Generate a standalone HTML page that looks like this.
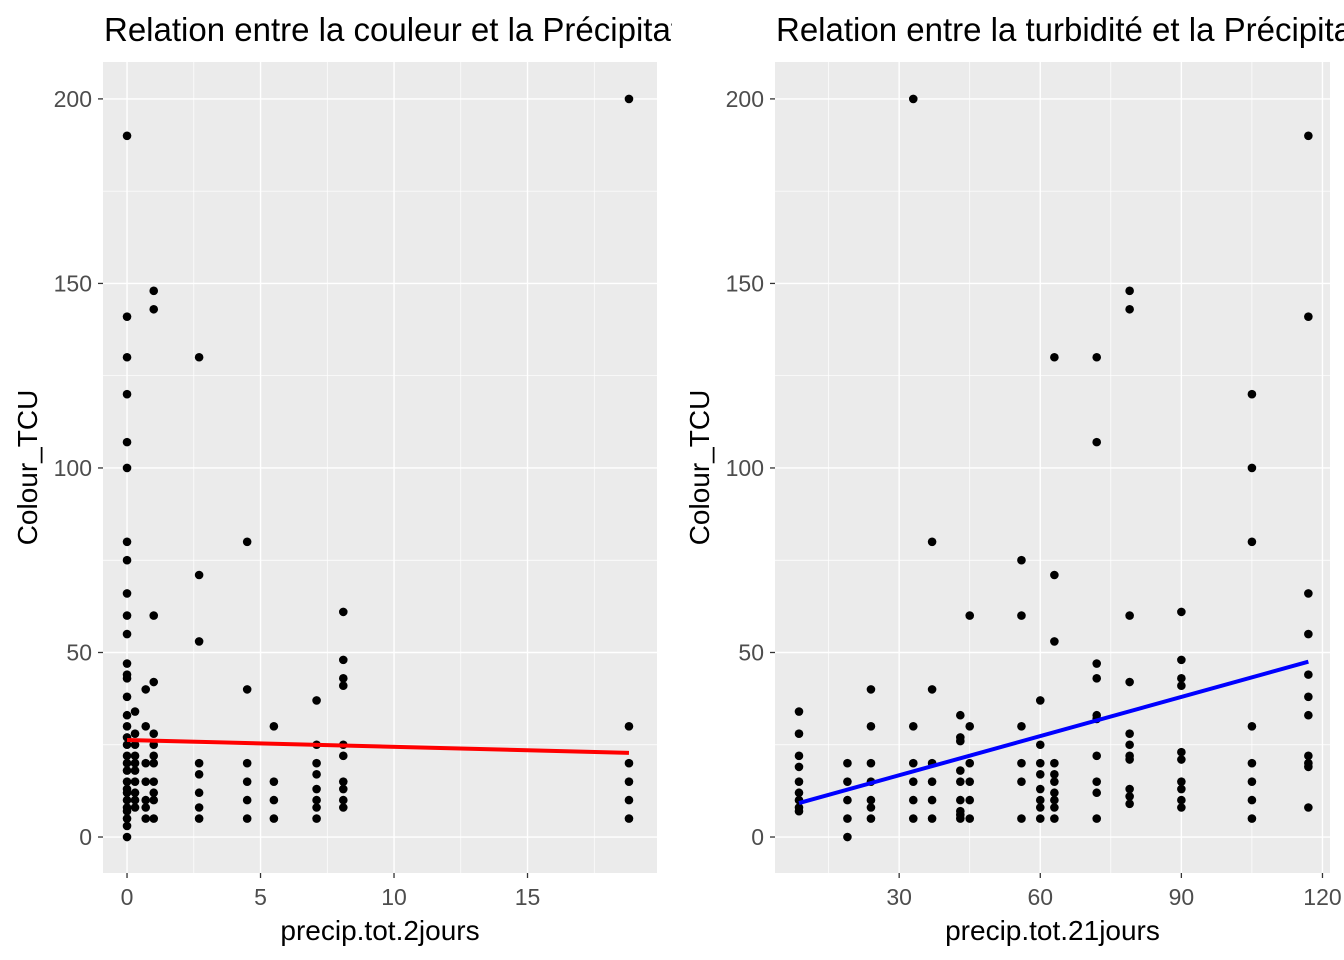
<!DOCTYPE html>
<html><head><meta charset="utf-8"><style>
html,body{margin:0;padding:0;background:#fff}
svg{display:block;font-family:"Liberation Sans",Arial,sans-serif}
</style></head><body>
<svg id="chart" width="1344" height="960" xmlns="http://www.w3.org/2000/svg">
<defs>
<clipPath id="clipL"><rect x="0" y="0" width="672" height="960"/></clipPath>
<clipPath id="clipR"><rect x="672" y="0" width="672" height="960"/></clipPath>
</defs>
</svg>
<script>
// Left panel data
const leftX = [0,0,0,0,0,0,0,0,0,0,0,0,0,0,0,0,0,0,0,0,0,0,0,0,0,0,0,0,0,0,0,
 0.3,0.3,0.3,0.3,0.3,0.3,0.3,0.3,0.3,0.3,
 0.7,0.7,0.7,0.7,0.7,0.7,0.7,
 1,1,1,1,1,1,1,1,1,1,1,1,
 2.7,2.7,2.7,2.7,2.7,2.7,2.7,2.7,
 4.5,4.5,4.5,4.5,4.5,4.5,
 5.5,5.5,5.5,5.5,
 7.1,7.1,7.1,7.1,7.1,7.1,7.1,7.1,
 8.1,8.1,8.1,8.1,8.1,8.1,8.1,8.1,8.1,8.1,
 18.8,18.8,18.8,18.8,18.8,18.8];
const leftY = [190,141,130,120,107,100,80,75,66,60,55,47,44,43,38,33,30,27,25,22,20,18,15,13,12,10,8,7,5,3,0,
 34,28,25,22,20,18,15,12,10,8,
 40,30,20,15,10,8,5,
 148,143,60,42,28,25,22,20,15,12,10,5,
 130,71,53,20,17,12,8,5,
 80,40,20,15,10,5,
 30,15,10,5,
 37,25,20,17,13,10,8,5,
 61,48,43,41,25,22,15,13,10,8,
 200,30,20,15,10,5];
// Left regression (fitted on full data incl. overlapping points): x range and y values at ends
const leftFitX = [0, 18.8];
const leftFitY = [26.3, 22.8];
// Right panel data
const rightX = [8.7,8.7,8.7,8.7,8.7,8.7,8.7,8.7,8.7,
 19,19,19,19,19,
 24,24,24,24,24,24,24,
 33,33,33,33,33,33,
 37,37,37,37,37,37,
 43,43,43,43,43,43,43,43,43,
 45,45,45,45,45,45,
 56,56,56,56,56,56,
 60,60,60,60,60,60,60,60,
 63,63,63,63,63,63,63,63,63,63,
 72,72,72,72,72,72,72,72,72,72,
 79,79,79,79,79,79,79,79,79,79,79,
 90,90,90,90,90,90,90,90,90,90,
 105,105,105,105,105,105,105,105,
 117,117,117,117,117,117,117,117,117,117,117];
const rightY = [34,28,22,19,15,12,10,8,7,
 20,15,10,5,0,
 40,30,20,15,10,8,5,
 200,30,20,15,10,5,
 80,40,20,15,10,5,
 33,27,26,18,15,10,7,6,5,
 60,30,20,15,10,5,
 75,60,30,20,15,5,
 37,25,20,17,13,10,8,5,
 130,71,53,20,17,15,12,10,8,5,
 130,107,47,43,33,32,22,15,12,5,
 148,143,60,42,28,25,22,21,13,11,9,
 61,48,43,41,23,21,15,13,10,8,
 120,100,80,30,20,15,10,5,
 190,141,66,55,44,38,33,22,20,19,8];
const rightFitX = [8.7, 117];
const rightFitY = [9.2, 47.5];
const leftXTicks = [0,5,10,15];
const leftXMinor = [2.5,7.5,12.5,17.5];
const rightXTicks = [30,60,90,120];
const rightXMinor = [15,45,75,105];
const yTicks = [0,50,100,150,200];
const yMinor = [25,75,125,175];

const NS="http://www.w3.org/2000/svg";
const svg=document.getElementById('chart');
function el(tag,attrs,parent,text){const e=document.createElementNS(NS,tag);for(const k in attrs)e.setAttribute(k,attrs[k]);if(text!==undefined)e.textContent=text;(parent||svg).appendChild(e);return e;}

function panel(opt){
  const g=el('g',{},svg);
  
  
  const {px0,px1,py0,py1,xmin,xmax,ymin,ymax}=opt;
  const sx=v=>px0+(v-xmin)/(xmax-xmin)*(px1-px0);
  const sy=v=>py1-(v-ymin)/(ymax-ymin)*(py1-py0);
  const bg=el('rect',{x:px0,y:py0,width:px1-px0,height:py1-py0,fill:'#ebebeb'},g);
  
  
  opt.xMinor.forEach(v=>el('line',{x1:sx(v),x2:sx(v),y1:py0,y2:py1,stroke:'#fff','stroke-width':0.7},g));
  yMinor.forEach(v=>el('line',{x1:px0,x2:px1,y1:sy(v),y2:sy(v),stroke:'#fff','stroke-width':0.7},g));
  opt.xTicks.forEach(v=>{
    el('line',{x1:sx(v),x2:sx(v),y1:py0,y2:py1,stroke:'#fff','stroke-width':1.4},g);
    el('line',{x1:sx(v),x2:sx(v),y1:py1,y2:py1+5,stroke:'#333','stroke-width':1.3},g);
    const t=el('text',{x:sx(v),y:py1+32,'font-size':23,fill:'#4d4d4d','text-anchor':'middle'},g,String(v));
    
    
  });
  yTicks.forEach(v=>{
    el('line',{x1:px0,x2:px1,y1:sy(v),y2:sy(v),stroke:'#fff','stroke-width':1.4},g);
    el('line',{x1:px0-5,x2:px0,y1:sy(v),y2:sy(v),stroke:'#333','stroke-width':1.3},g);
    const t=el('text',{x:px0-11,y:sy(v)+8,'font-size':23,fill:'#4d4d4d','text-anchor':'end'},g,String(v));
    
    
  });
  for(let i=0;i<opt.xs.length;i++){
    const c=el('circle',{cx:sx(opt.xs[i]),cy:sy(opt.ys[i]),r:4.3,fill:'#000'},g);
    
    
  }
  const ln=el('line',{x1:sx(opt.fx[0]),y1:sy(opt.fy[0]),x2:sx(opt.fx[1]),y2:sy(opt.fy[1]),stroke:opt.color,'stroke-width':4},g);
  
  
  const xt=el('text',{x:(px0+px1)/2,y:940,'font-size':28,fill:'#000','text-anchor':'middle'},g,opt.xlab);
  
  
  const yt=el('text',{x:0,y:0,'font-size':28,fill:'#000','text-anchor':'middle',transform:`translate(${opt.ylabX},${(py0+py1)/2}) rotate(-90)`},g,'Colour_TCU');
  
  
  const tt=el('text',{x:px0+1,y:41,'font-size':33,fill:'#000','clip-path':opt.clip},g,opt.title);
  
  
}
panel({name:'left-panel',px0:103,px1:657,py0:62,py1:873,xmin:-0.9,xmax:19.85,ymin:-9.75,ymax:210,
  xs:leftX,ys:leftY,fx:leftFitX,fy:leftFitY,xTicks:leftXTicks,xMinor:leftXMinor,color:'#ff0000',xlab:'precip.tot.2jours',ylabX:37,
  title:'Relation entre la couleur et la Précipitation totale sur 2 jours',clip:'url(#clipL)'});
panel({name:'right-panel',px0:775,px1:1330,py0:62,py1:873,xmin:3.6,xmax:121.6,ymin:-9.75,ymax:210,
  xs:rightX,ys:rightY,fx:rightFitX,fy:rightFitY,xTicks:rightXTicks,xMinor:rightXMinor,color:'#0000ff',xlab:'precip.tot.21jours',ylabX:709,
  title:'Relation entre la turbidité et la Précipitation totale sur 21 jours',clip:'url(#clipR)'});
</script>
</body></html>
